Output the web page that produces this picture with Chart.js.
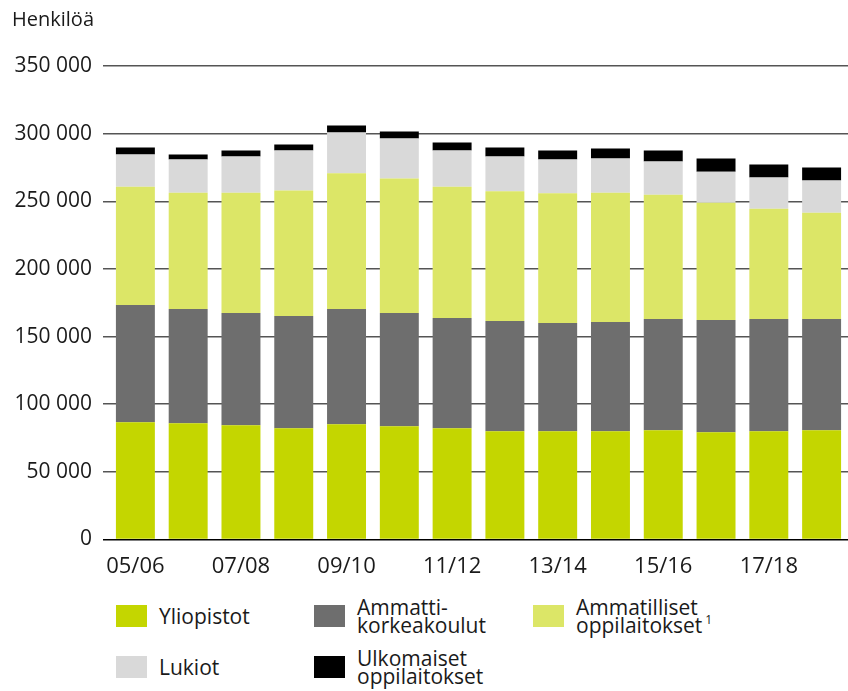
<!DOCTYPE html>
<html>
<head>
<meta charset="utf-8">
<script src="https://cdn.jsdelivr.net/npm/chart.js@4/dist/chart.umd.min.js"></script>
<style>
  body{margin:0;background:#fff;font-family:"Open Sans",sans-serif;color:#1a1a1a;}
  #wrap{position:relative;width:848px;height:691px;}
  #box{position:absolute;left:0;top:0;width:848px;height:590px;}
  #legend{position:absolute;left:116px;top:590px;display:grid;grid-template-columns:198px 219px auto;grid-auto-rows:51px;}
  .item{display:flex;align-items:center;}
  .sw{width:31px;height:22px;margin-right:12px;flex:none;}
  .txt{font-size:21px;line-height:18px;}
  .txt sup{font-size:12px;margin-left:3px;vertical-align:9px;line-height:0;}
</style>
</head>
<body>
<div id="wrap">
  <div id="box"><canvas id="c"></canvas></div>
  <div id="legend"></div>
</div>
<script>
const years=['05/06','06/07','07/08','08/09','09/10','10/11','11/12','12/13','13/14','14/15','15/16','16/17','17/18','18/19'];
const yliopistot=[86700,86000,84500,82300,85200,83700,82300,80000,80000,80000,80800,79300,80000,80800];
const amk=[86700,84400,83000,82900,85200,83800,81500,81500,80100,80800,82200,83000,83000,82200];
const ammatilliset=[87400,86000,88900,92700,100300,99300,97000,95900,95800,95600,91900,86700,81500,78600];
const lukiot=[23700,24400,26700,29600,30100,29600,26700,25700,24900,25200,24500,22900,23000,23700];
const ulkomaiset=[5200,3700,4400,4500,5200,5200,5900,6600,6700,7400,8100,9700,9600,9600];
const names=[['Yliopistot'],['Ammatti-','korkeakoulut'],['Ammatilliset','oppilaitokset<sup>1</sup>'],['Lukiot'],['Ulkomaiset','oppilaitokset']];
const colors=['#c4d600','#6e6e6e','#dce667','#d9d9d9','#000000'];
const series=[yliopistot,amk,ammatilliset,lukiot,ulkomaiset];

function fmt(v){return String(v).replace(/\B(?=(\d{3})+(?!\d))/g,' ');}

const datasets=series.map((d,i)=>({
  label:names[i].join(' ').replace(/<[^>]+>/g,''),
  data:d,backgroundColor:colors[i],
  barPercentage:0.738,categoryPercentage:1
}));

new Chart(document.getElementById('c'),{
  type:'bar',
  data:{labels:years,datasets:datasets},
  options:{
    responsive:true,maintainAspectRatio:false,animation:false,
    layout:{padding:{left:12,right:0,top:0,bottom:0}},
    plugins:{
      legend:{display:false},tooltip:{enabled:false},
      title:{display:true,text:'Henkilöä',align:'start',color:'#1a1a1a',
        font:{family:'Open Sans',size:20,weight:'normal'},padding:{top:8,bottom:34}}
    },
    scales:{
      x:{stacked:true,
        grid:{display:false,drawTicks:false},border:{display:false},
        afterFit:s=>{s.height=50.5;},
        ticks:{autoSkip:false,maxRotation:0,padding:14,color:'#1a1a1a',
          font:{family:'Open Sans',size:22},
          callback:function(v,i){return i%2===0?years[i]:'';}}},
      y:{stacked:true,min:0,max:350000,
        afterFit:s=>{s.width=97;},
        border:{display:false},
        grid:{color:c=>c.tick&&c.tick.value===0?'#000':'#555',lineWidth:1.5,tickLength:6},
        ticks:{stepSize:50000,padding:11,color:'#1a1a1a',
          font:{family:'Open Sans',size:21},callback:v=>fmt(v)}}
    }
  }
});

const lg=document.getElementById('legend');
names.forEach((n,i)=>{
  const it=document.createElement('div');it.className='item';
  it.innerHTML='<span class="sw" style="background:'+colors[i]+'"></span><span class="txt">'+n.join('<br>')+'</span>';
  lg.appendChild(it);
});
</script>
</body>
</html>
